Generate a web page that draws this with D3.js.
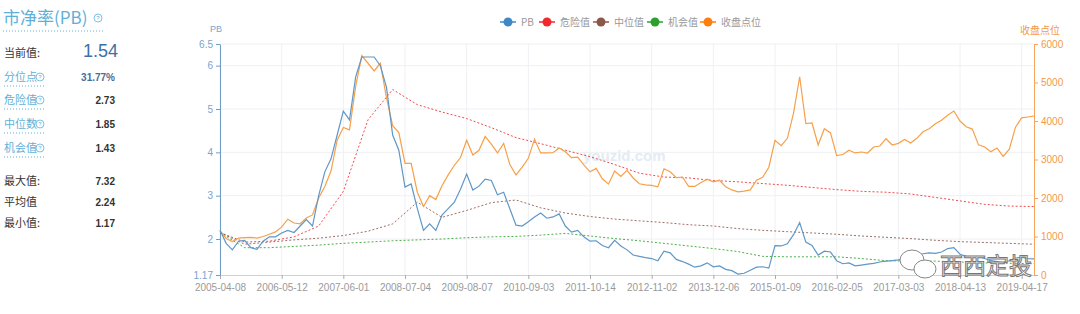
<!DOCTYPE html>
<html>
<head>
<meta charset="utf-8">
<script src="https://cdn.jsdelivr.net/npm/d3@7"></script>
<style>
  body { margin: 0; background: #fff; }
  svg { display: block; font-family: "Liberation Sans", Arial, sans-serif; }
  .cn { font-family: "Noto Sans CJK SC", sans-serif; }
</style>
</head>
<body>
<svg id="chart" width="1080" height="314"></svg>
<script>
// x categories (every 10th point is labelled)
var dateLabels = ["2005-04-08", "2006-05-12", "2007-06-01", "2008-07-04", "2009-08-07",
  "2010-09-03", "2011-10-14", "2012-11-02", "2013-12-06", "2015-01-09",
  "2016-02-05", "2017-03-03", "2018-04-13", "2019-04-17"];
var labelEvery = 10;

var pbValues = [2.2, 1.9, 1.75, 1.95, 1.97, 1.8, 1.76, 1.95, 2.05, 2.05,
  2.14, 2.2, 2.15, 2.3, 2.45, 2.3, 3.0, 3.55, 3.85, 4.4,
  4.95, 4.75, 5.74, 6.2, 6.2, 6.2, 6.0, 5.5, 4.4, 4.05,
  3.2, 3.27, 2.7, 2.2, 2.35, 2.2, 2.55, 2.7, 2.85, 3.15,
  3.5, 3.13, 3.22, 3.38, 3.35, 3.02, 3.08, 2.7, 2.32, 2.3,
  2.4, 2.51, 2.6, 2.48, 2.51, 2.58, 2.3, 2.16, 2.2, 2.05,
  1.95, 1.96, 1.85, 1.8, 1.97, 1.84, 1.75, 1.63, 1.6, 1.57,
  1.55, 1.5, 1.72, 1.68, 1.53, 1.48, 1.42, 1.35, 1.38, 1.45,
  1.36, 1.38, 1.3, 1.27, 1.19, 1.21, 1.28, 1.35, 1.36, 1.33,
  1.85, 1.84, 1.89, 2.1, 2.38, 1.93, 1.85, 1.63, 1.72, 1.7,
  1.5, 1.43, 1.45, 1.38, 1.4, 1.42, 1.44, 1.47, 1.49, 1.5,
  1.52, 1.55, 1.6, 1.62, 1.66, 1.68, 1.67, 1.7, 1.78, 1.8,
  1.65, 1.6, 1.57, 1.6, 1.55, 1.5, 1.48, 1.45, 1.5, 1.56,
  1.58, 1.55, 1.54];

var closeValues = [1150, 950, 870, 960, 970, 975, 960, 1000, 1060, 1120,
  1250, 1450, 1350, 1330, 1480, 1560, 2000, 2300, 2700, 3500,
  3830, 3770, 4900, 5700, 5500, 5300, 5500, 4600, 3880, 3700,
  2900, 2900, 2150, 1780, 2060, 1960, 2320, 2600, 2850, 3050,
  3500, 3117, 3240, 3600, 3400, 3170, 3420, 2870, 2600, 2800,
  3030, 3530, 3170, 3170, 3175, 3300, 3200, 3050, 3060, 2860,
  2680, 2770, 2500, 2360, 2700, 2560, 2720, 2520, 2370, 2340,
  2330, 2290, 2760, 2680, 2530, 2545, 2300, 2300, 2400, 2490,
  2420, 2460, 2290, 2210, 2160, 2180, 2210, 2460, 2540, 2800,
  3500, 3360, 3550, 4200, 5150, 3930, 3948, 3377, 3800, 3690,
  3100, 3130, 3240, 3170, 3195, 3169, 3325, 3351, 3540, 3377,
  3420, 3520, 3430, 3550, 3720, 3800, 3930, 4020, 4150, 4260,
  4000, 3850, 3790, 3380, 3325, 3200, 3300, 3080, 3270, 3840,
  4080, 4104, 4130];

// reference lines, one value every refStep points
var refStep = 4;
var dangerValues = [2.15, 1.93, 1.95, 2.05, 2.3, 3.1, 4.75, 5.45, 5.1, 4.93,
  4.78, 4.57, 4.34, 4.2, 4.05, 3.9, 3.72, 3.52, 3.43, 3.41,
  3.35, 3.32, 3.28, 3.24, 3.19, 3.14, 3.1, 3.08, 3.04, 2.96,
  2.88, 2.8, 2.76, 2.75];
var medianValues = [2.15, 1.88, 1.93, 1.98, 2.02, 2.08, 2.18, 2.35, 2.85, 2.5,
  2.66, 2.84, 2.9, 2.72, 2.6, 2.52, 2.46, 2.42, 2.38, 2.33,
  2.3, 2.24, 2.2, 2.17, 2.14, 2.11, 2.07, 2.04, 2.01, 1.97,
  1.94, 1.92, 1.9, 1.88];
var chanceValues = [2.15, 1.8, 1.8, 1.83, 1.86, 1.9, 1.93, 1.96, 1.98, 2.0,
  2.03, 2.05, 2.06, 2.09, 2.13, 2.07, 2.01, 1.96, 1.9, 1.84,
  1.78, 1.71, 1.6, 1.59, 1.59, 1.59, 1.55, 1.5, 1.49, 1.49,
  1.47, 1.45, 1.44, 1.43];

var pbTicks = [1.17, 2, 3, 4, 5, 6, 6.5];
var closeTicks = [0, 1000, 2000, 3000, 4000, 5000, 6000];

var legendNames = ["PB", "危险值", "中位值", "机会值", "收盘点位"];
var legendColors = ["#3f88c5", "#ee2a2f", "#8c564b", "#2ca02c", "#ff7f0e"];

var statLabels = ["分位点", "危险值", "中位数", "机会值"];
var statValues = ["31.77%", "2.73", "1.85", "1.43"];
var rangeLabels = ["最大值:", "平均值", "最小值:"];
var rangeValues = ["7.32", "2.24", "1.17"];
var currentValue = "1.54";

var svg = d3.select("#chart");

var x = d3.scaleLinear().domain([0, pbValues.length - 1]).range([220, 1034]);
var yPB = d3.scaleLinear().domain([1.17, 6.5]).range([275, 44]);
var yClose = d3.scaleLinear().domain([0, 6000]).range([275, 44]);
var xTicks = d3.range(0, pbValues.length, labelEvery);

// grid
svg.append("g").selectAll("line.vg").data(xTicks).enter().append("line")
  .attr("x1", function(d) { return x(d); }).attr("x2", function(d) { return x(d); })
  .attr("y1", yPB(6.5)).attr("y2", yPB(1.17))
  .attr("stroke", "#eef0f3");
svg.append("g").selectAll("line.hg").data(pbTicks.slice(1)).enter().append("line")
  .attr("x1", x(0)).attr("x2", x.range()[1])
  .attr("y1", function(d) { return yPB(d); }).attr("y2", function(d) { return yPB(d); })
  .attr("stroke", "#eef0f3");

// watermark text
svg.append("text").attr("x", 583).attr("y", 161)
  .attr("font-size", 15).attr("font-weight", "bold")
  .attr("fill", "#e4ebf4").text("youzid.com");

// axes
var xAxis = svg.append("g").attr("transform", "translate(0," + yPB(1.17) + ")")
  .call(d3.axisBottom(x).tickValues(xTicks).tickSize(4).tickSizeOuter(0)
    .tickFormat(function(d, i) { return dateLabels[i]; }));
xAxis.select(".domain").attr("stroke", "#cfd3d8");
xAxis.selectAll(".tick line").attr("stroke", "#aaa");
xAxis.selectAll("text").attr("fill", "#9a9a9a").attr("font-size", 10).attr("dy", "0.9em");

var leftAxis = svg.append("g").attr("transform", "translate(" + x(0) + ",0)")
  .call(d3.axisLeft(yPB).tickValues(pbTicks).tickSize(4).tickSizeOuter(0)
    .tickFormat(function(d) { return d; }));
leftAxis.select(".domain").attr("stroke", "#6f9cc8");
leftAxis.selectAll(".tick line").attr("stroke", "#6f9cc8");
leftAxis.selectAll("text").attr("fill", "#7aa3cc").attr("font-size", 10);

var rightAxis = svg.append("g").attr("transform", "translate(" + x.range()[1] + ",0)")
  .call(d3.axisRight(yClose).tickValues(closeTicks).tickSize(4).tickSizeOuter(0)
    .tickFormat(d3.format("d")));
rightAxis.select(".domain").attr("stroke", "#f7a55c");
rightAxis.selectAll(".tick line").attr("stroke", "#f7a55c");
rightAxis.selectAll("text").attr("fill", "#f29a4a").attr("font-size", 10);

svg.append("text").attr("x", x(0) - 4).attr("y", 32).attr("text-anchor", "middle")
  .attr("font-size", 9).attr("fill", "#7aa3cc").text("PB");
svg.append("text").attr("class", "cn").attr("x", 1040).attr("y", 34).attr("text-anchor", "middle")
  .attr("font-size", 10).attr("fill", "#f29a4a").text("收盘点位");

// reference dotted lines
var refLine = d3.line()
  .x(function(d, i) { return x(i * refStep); })
  .y(function(d) { return yPB(d); });
[[dangerValues, legendColors[1]], [medianValues, legendColors[2]], [chanceValues, legendColors[3]]]
  .forEach(function(s) {
    svg.append("path").datum(s[0])
      .attr("d", refLine)
      .attr("fill", "none")
      .attr("stroke", s[1])
      .attr("stroke-opacity", 0.85)
      .attr("stroke-width", 1)
      .attr("stroke-dasharray", "2,2");
  });

// close index line
svg.append("path").datum(closeValues)
  .attr("d", d3.line().x(function(d, i) { return x(i); }).y(function(d) { return yClose(d); }))
  .attr("fill", "none").attr("stroke", "#f7a049").attr("stroke-width", 1.2);

// PB line
svg.append("path").datum(pbValues)
  .attr("d", d3.line().x(function(d, i) { return x(i); }).y(function(d) { return yPB(d); }))
  .attr("fill", "none").attr("stroke", "#5f97c8").attr("stroke-width", 1.2);

// legend
var legendX = [508, 547, 601, 655, 708];
var legend = svg.append("g").selectAll("g").data(legendNames).enter().append("g")
  .attr("transform", function(d, i) { return "translate(" + legendX[i] + ",22)"; });
legend.append("line").attr("x1", -8).attr("x2", 8)
  .attr("stroke", function(d, i) { return legendColors[i]; }).attr("stroke-width", 1.5);
legend.append("circle").attr("r", 4.5)
  .attr("fill", function(d, i) { return legendColors[i]; });
legend.append("text").attr("class", "cn").attr("x", 13).attr("dy", "0.35em")
  .attr("font-size", 10).attr("fill", "#999").text(function(d) { return d; });

// wechat watermark
var wm = svg.append("g");
wm.append("ellipse").attr("cx", 912).attr("cy", 260).attr("rx", 12).attr("ry", 10)
  .attr("fill", "#fff").attr("stroke", "#888");
wm.append("ellipse").attr("cx", 925).attr("cy", 269).attr("rx", 11).attr("ry", 9)
  .attr("fill", "#fff").attr("stroke", "#888");
wm.append("text").attr("class", "cn").attr("x", 940).attr("y", 274)
  .attr("font-size", 23).attr("fill", "#fff").attr("stroke", "#777").attr("stroke-width", 1)
  .text("西西定投");

// left summary panel
var blue = "#5fb0d8";
function helpIcon(cx, cy, r) {
  svg.append("circle").attr("cx", cx).attr("cy", cy).attr("r", r)
    .attr("fill", "none").attr("stroke", blue).attr("stroke-width", 0.8);
  svg.append("text").attr("x", cx).attr("y", cy).attr("dy", "0.35em")
    .attr("text-anchor", "middle").attr("font-size", r * 1.5).attr("fill", blue).text("?");
}
svg.append("text").attr("class", "cn").attr("x", 3).attr("y", 24)
  .attr("font-size", 17).attr("fill", blue).text("市净率(PB)");
helpIcon(98, 18, 4);
svg.append("line").attr("x1", 3).attr("x2", 104).attr("y1", 31).attr("y2", 31)
  .attr("stroke", blue).attr("stroke-dasharray", "1,2");

svg.append("text").attr("class", "cn").attr("x", 4).attr("y", 57)
  .attr("font-size", 11).attr("fill", "#333").text("当前值:");
svg.append("text").attr("x", 83).attr("y", 57)
  .attr("font-size", 18).attr("fill", "#3e70a8").text(currentValue);

var statY = [77, 100, 124, 148];
statLabels.forEach(function(t, i) {
  svg.append("text").attr("class", "cn").attr("x", 4).attr("y", statY[i] + 4)
    .attr("font-size", 11).attr("fill", blue).text(t);
  helpIcon(40, statY[i], 4);
  svg.append("line").attr("x1", 4).attr("x2", 46).attr("y1", statY[i] + 9).attr("y2", statY[i] + 9)
    .attr("stroke", blue).attr("stroke-dasharray", "1,2");
  svg.append("text").attr("x", 115).attr("y", statY[i] + 4).attr("text-anchor", "end")
    .attr("font-size", 10).attr("font-weight", "bold")
    .attr("fill", i === 0 ? "#4a6d99" : "#333").text(statValues[i]);
});

var rangeY = [181, 202, 223];
rangeLabels.forEach(function(t, i) {
  svg.append("text").attr("class", "cn").attr("x", 4).attr("y", rangeY[i] + 4)
    .attr("font-size", 11).attr("fill", "#333").text(t);
  svg.append("text").attr("x", 115).attr("y", rangeY[i] + 4).attr("text-anchor", "end")
    .attr("font-size", 10).attr("font-weight", "bold").attr("fill", "#333").text(rangeValues[i]);
});
</script>
</body>
</html>
